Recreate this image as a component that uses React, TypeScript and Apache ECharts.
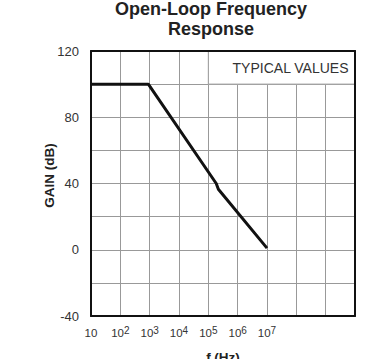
import React, { useEffect, useRef } from "react";
import * as echarts from "echarts";

const freqHz = [10, 900, 1.86e5, 2.2e5, 1e7];
const gainDb = [100, 100, 40, 36.5, 1];
const yTicks = [-40, 0, 40, 80, 120];
const xLabelMaxExp = 7;
const boxLabel = "TYPICAL VALUES";
const titleText = "Open-Loop Frequency\nResponse";

const FONT = "'Liberation Sans', Arial, Helvetica, sans-serif";

export default function App() {
  const ref = useRef<HTMLDivElement>(null);
  useEffect(() => {
    if (!ref.current) return;
    const chart = echarts.init(ref.current, undefined, { renderer: "svg" });
    const curve = freqHz.map((f, i) => [f, gainDb[i]]);
    chart.setOption({
      animation: false,
      backgroundColor: "#fff",
      textStyle: { fontFamily: FONT },
      graphic: [
        {
          type: "text",
          x: 211,
          y: -1,
          style: {
            text: titleText,
            font: `bold 18px ${FONT}`,
            fill: "#222",
            textAlign: "center",
            textVerticalAlign: "top",
            lineHeight: 20,
          },
        },
      ],
      grid: {
        left: 91,
        right: 35,
        top: 51,
        bottom: 43,
        show: false,
        containLabel: false,
        outerBoundsMode: "none",
      },
      xAxis: [
        {
          type: "log",
          logBase: 10,
          min: 10,
          max: 1e10,
          position: "bottom",
          z: 0,
          name: "f (Hz)",
          nameLocation: "middle",
          nameGap: 34,
          nameMoveOverlap: false,
          nameTextStyle: { fontSize: 13.5, fontWeight: "bold", color: "#222", fontFamily: FONT },
          axisLine: { show: true, onZero: false, lineStyle: { color: "#111", width: 2 } },
          axisTick: { show: false },
          splitLine: { show: true, lineStyle: { color: "#999", width: 1 } },
          axisLabel: {
            margin: 9,
            color: "#333",
            formatter: (v: number) => {
              const n = Math.round(Math.log10(v));
              if (n > xLabelMaxExp) return "";
              if (n === 1) return "{b|10}";
              return `{b|10}{s|${n}}`;
            },
            rich: {
              b: { fontSize: 11.5, color: "#333", fontFamily: FONT, lineHeight: 14, verticalAlign: "bottom" },
              s: { fontSize: 10, color: "#333", fontFamily: FONT, lineHeight: 14, verticalAlign: "top" },
            },
          },
        },
        {
          type: "log",
          logBase: 10,
          min: 10,
          max: 1e10,
          position: "top",
          z: 5,
          axisLine: { show: true, onZero: false, lineStyle: { color: "#111", width: 2 } },
          axisTick: { show: false },
          axisLabel: { show: false },
          splitLine: { show: false },
        },
      ],
      yAxis: [
        {
          type: "value",
          min: -40,
          max: 120,
          interval: 20,
          position: "left",
          z: 0,
          name: "GAIN (dB)",
          nameLocation: "middle",
          nameGap: 35,
          nameMoveOverlap: false,
          nameTextStyle: {
            fontSize: 13.5,
            fontWeight: "bold",
            color: "#222",
            fontFamily: FONT,
            padding: [0, 0, 0, 16],
          },
          axisLine: { show: true, onZero: false, lineStyle: { color: "#111", width: 2 } },
          axisTick: { show: false },
          splitLine: { show: true, lineStyle: { color: "#999", width: 1 } },
          axisLabel: {
            margin: 12,
            fontSize: 13,
            color: "#333",
            fontFamily: FONT,
            formatter: (v: number) => (yTicks.includes(v) ? String(v) : ""),
          },
        },
        {
          type: "value",
          min: -40,
          max: 120,
          interval: 20,
          position: "right",
          z: 5,
          axisLine: { show: true, onZero: false, lineStyle: { color: "#111", width: 2 } },
          axisTick: { show: false },
          axisLabel: { show: false },
          splitLine: { show: false },
        },
      ],
      series: [
        {
          type: "line",
          xAxisIndex: 0,
          yAxisIndex: 0,
          data: curve,
          symbol: "none",
          z: 3,
          silent: true,
          lineStyle: { color: "#111", width: 3 },
          markArea: {
            silent: true,
            itemStyle: { color: "#fff", borderColor: "#999", borderWidth: 1 },
            label: {
              show: true,
              position: "insideRight",
              distance: 7,
              fontSize: 14,
              color: "#333",
              fontFamily: FONT,
            },
            data: [[{ name: boxLabel, coord: [1e5, 120] }, { coord: [1e10, 100] }]],
          },
        },
      ],
    });
    return () => chart.dispose();
  }, []);
  return (
    <div
      ref={ref}
      style={{ position: "fixed", left: 0, top: 0, width: 390, height: 359 }}
    />
  );
}
